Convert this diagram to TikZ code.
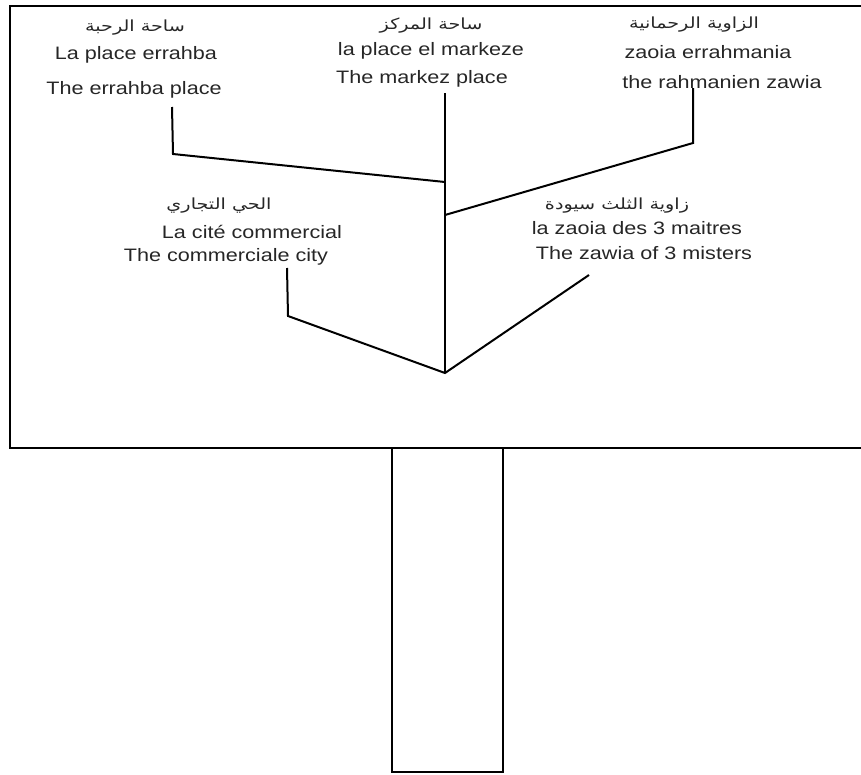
\documentclass[tikz,border=0pt]{standalone}
\usepackage{fontspec}
\setmainfont{Liberation Sans}
\newfontfamily\lat[FakeStretch=1.2]{Liberation Sans}
\newfontfamily\arabicfont[Script=Arabic,FakeStretch=1.25]{DejaVu Sans}
\TeXXeTstate=1
\begin{document}
\begin{tikzpicture}[x=0.75pt,y=-0.75pt,
  lbl/.style={inner sep=0pt,font=\lat\fontsize{13.5pt}{15pt}\selectfont,text=black!85},
  arlbl/.style={inner sep=0pt,font=\arabicfont\fontsize{11.5pt}{13pt}\selectfont,text=black!85},
  wire/.style={line width=1.5pt,line join=miter},
  frame/.style={line width=1.8pt}]
\useasboundingbox (0,0) rectangle (861,775);
% board and post
\draw[frame] (875,6) -- (10,6) -- (10,448) -- (875,448);
\draw[frame] (392,448) rectangle (503,772);
% labels
\node[arlbl] (a1) at (135,28) {\beginR ساحة الرحبة\endR};
\node[lbl] (a2) at (136,55) {La place errahba};
\node[lbl] (a3) at (134,90) {The errahba place};
\node[arlbl] (b1) at (431,26) {\beginR ساحة المركز\endR};
\node[lbl] (b2) at (431,51) {la place el markeze};
\node[lbl] (b3) at (422,79) {The markez place};
\node[arlbl] (c1) at (694,25) {\beginR الزاوية الرحمانية\endR};
\node[lbl] (c2) at (708,52) {zaoia errahmania};
\node[lbl] (c3) at (722,82) {the rahmanien zawia};
\node[arlbl] (d1) at (219,206) {\beginR الحي التجاري\endR};
\node[lbl] (d2) at (252,232) {La cité commercial};
\node[lbl] (d3) at (226,257) {The commerciale city};
\node[arlbl] (e1) at (617,206) {\beginR زاوية الثلث سيودة\endR};
\node[lbl] (e2) at (637,228) {la zaoia des 3 maitres};
\node[lbl] (e3) at (644,253) {The zawia of 3 misters};
% connector points
\coordinate (pa) at (172,107);
\coordinate (pa2) at (173,154);
\coordinate (pb) at (445,93);
\coordinate (pc) at (693,88);
\coordinate (pc2) at (693,143);
\coordinate (pd) at (287,268);
\coordinate (pd2) at (288,316);
\coordinate (pe) at (589,275);
\coordinate (j1) at (445,182);
\coordinate (j2) at (445,215);
\coordinate (base) at (445,373);
% connectors
\draw[wire] (pb) -- (base);
\draw[wire] (pa) -- (pa2) -- (j1);
\draw[wire] (pc) -- (pc2) -- (j2);
\draw[wire] (pd) -- (pd2) -- (base) -- (pe);
\end{tikzpicture}
\end{document}
